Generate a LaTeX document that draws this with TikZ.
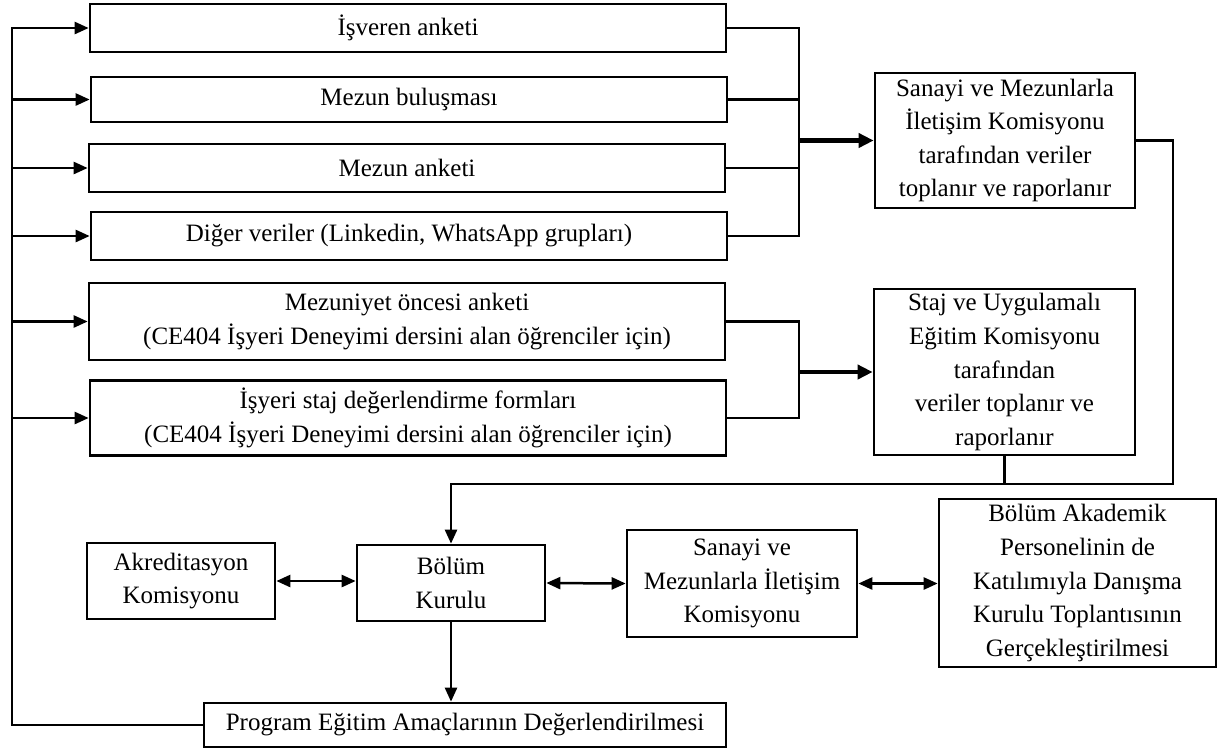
\documentclass[tikz,border=0pt]{standalone}
\usepackage{fontspec}
\setmainfont{Liberation Serif}
\usepackage{tikz}
\usetikzlibrary{arrows.meta, positioning}

\begin{document}
\begin{tikzpicture}[x=0.5pt, y=-0.5pt,
    box/.style={draw, line width=1.35pt, align=center, inner sep=2pt,
        font=\fontsize{12.5}{16.8}\selectfont},
    wide/.style={box, minimum width=318pt},
    link/.style={line width=1.25pt},
    arr/.style={line width=1.25pt, -{Triangle[length=7pt, width=6pt]}},
    dbl/.style={line width=1.25pt, {Triangle[length=7pt, width=6pt]}-{Triangle[length=7pt, width=6pt]}},
    bold/.style={line width=2.2pt, -{Triangle[length=7.5pt, width=7pt]}}]
                    \useasboundingbox (0,0) rectangle (1218,751);
                    % Data sources
                    \node[wide, minimum height=24pt] (isv) at (408,28) {İşveren anketi};
                    \node[wide, minimum height=22.5pt] (bul) at (409,99.5) {Mezun buluşması};
                    \node[wide, minimum height=24pt] (anket) at (407,168) {Mezun anketi};
                    \node[wide, minimum height=24pt] (diger) at (409,236) {Diğer veriler (Linkedin, WhatsApp grupları)};
                    \node[wide, minimum height=38.5pt] (oncesi) at (407,321.5) {Mezuniyet öncesi anketi\\(CE404 İşyeri Deneyimi dersini alan öğrenciler için)};
                    \node[wide, minimum height=37.5pt] (form) at (408,418) {İşyeri staj değerlendirme formları\\(CE404 İşyeri Deneyimi dersini alan öğrenciler için)};
                    % Commissions collecting the data
                    \node[box, minimum width=130pt, minimum height=67.5pt] (sanayiA) at (1005,140.5) {Sanayi ve Mezunlarla\\İletişim Komisyonu\\tarafından veriler\\toplanır ve raporlanır};
                    \node[box, minimum width=130.5pt, minimum height=83pt] (stajkom) at (1004.5,372) {Staj ve Uygulamalı\\Eğitim Komisyonu\\tarafından\\veriler toplanır ve\\raporlanır};
                    % Bottom row
                    \node[box, minimum width=94pt, minimum height=38pt] (akred) at (181,581) {Akreditasyon\\Komisyonu};
                    \node[box, minimum width=94pt, minimum height=38pt] (bolum) at (451,583) {Bölüm\\Kurulu};
                    \node[box, minimum width=115pt, minimum height=53.5pt] (sanayiB) at (742,583.5) {Sanayi ve\\Mezunlarla İletişim\\Komisyonu};
                    \node[box, minimum width=138.5pt, minimum height=84pt] (akad) at (1077.5,583) {Bölüm Akademik\\Personelinin de\\Katılımıyla Danışma\\Kurulu Toplantısının\\Gerçekleştirilmesi};
                    \node[box, minimum width=261pt, minimum height=22pt] (prog) at (465,725) {Program Eğitim Amaçlarının Değerlendirilmesi};
                    % Bus lines
                    \coordinate (fb) at (12,28);
                    \coordinate (busA) at (799,28);
                    \coordinate (busB) at (799,321);
                    \coordinate (jn) at (1173,484);
                    % Feedback to the sources
                    \draw[arr] (prog.west) -| (fb |- isv.west) -- (isv.west);
                    \draw[arr] (fb |- bul.west) -- (bul.west);
                    \draw[arr] (fb |- anket.west) -- (anket.west);
                    \draw[arr] (fb |- diger.west) -- (diger.west);
                    \draw[arr] (fb |- oncesi.west) -- (oncesi.west);
                    \draw[arr] (fb |- form.west) -- (form.west);
                    % Sources to commissions
                    \draw[link] (isv.east) -- (isv.east -| busA) -- (diger.east -| busA) -- (diger.east);
                    \draw[link] (bul.east) -- (bul.east -| busA);
                    \draw[link] (anket.east) -- (anket.east -| busA);
                    \draw[bold] (busA |- sanayiA.west) -- (sanayiA.west);
                    \draw[link] (oncesi.east) -- (oncesi.east -| busB) -- (form.east -| busB) -- (form.east);
                    \draw[bold] (busB |- stajkom.west) -- (stajkom.west);
                    % Reports to the department board
                    \draw[link] (stajkom.south) -- (stajkom.south |- jn);
                    \draw[arr] (sanayiA.east) -| (jn) -| (bolum.north);
                    \draw[arr] (bolum.south) -- (bolum.south |- prog.north);
                    \draw[dbl] (akred.east) -- (akred.east -| bolum.west);
                    \draw[dbl] (bolum.east) -- (sanayiB.west);
                    \draw[dbl] (sanayiB.east) -- (sanayiB.east -| akad.west);
                \end{tikzpicture}
\end{document}
